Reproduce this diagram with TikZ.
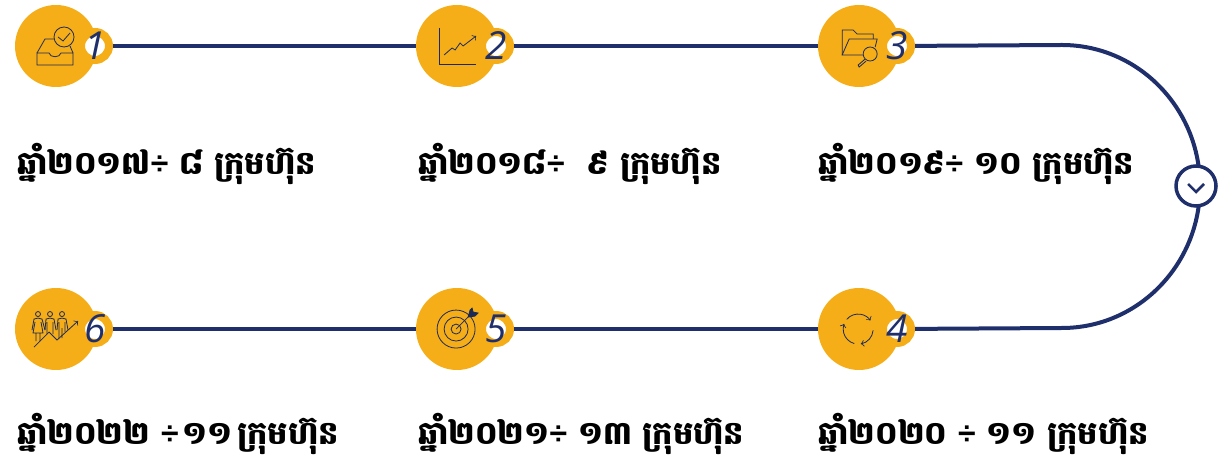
\documentclass[tikz,border=0pt]{standalone}
\usepackage{fontspec}
\setmainfont{Open Sans}
\newfontfamily\khmerfont[Script=Khmer]{Battambang}
\newfontfamily\signfont{Liberation Sans}
\newcommand{\divsign}{{\signfont ÷}}
\definecolor{gold}{HTML}{F5AD18}
\definecolor{navy}{HTML}{1F2F6B}
\definecolor{iconline}{HTML}{1B2A55}
\tikzset{
  every year node/.style={
    anchor=base west,inner sep=0pt,font=\khmerfont\bfseries\fontsize{18.2}{20}\selectfont,
  },
}
\begin{document}
\begin{tikzpicture}
		\tikzstyle{bigdisc}=[circle,fill=gold,minimum size=1.64cm,inner sep=0pt]
		\tikzstyle{bubble}=[circle,draw=gold,fill=white,line width=.16cm,minimum size=.56cm,inner sep=0pt]
		\tikzstyle{num}=[inner sep=0pt,text=navy,font=\itshape\fontsize{22}{22}\selectfont]
		\tikzstyle{yeartext}=[every year node]
		\tikzstyle{link}=[draw=navy,line width=.08cm]
		\tikzstyle{icon}=[x=.02cm,y=-.02cm,yshift=9.3cm,draw=iconline,line width=.45pt]
		\useasboundingbox (0,0) rectangle (24.54,9.3);

		\node[bigdisc] (disc1) at (1.12,8.38) {};
		\node[bigdisc] (disc2) at (9.14,8.38) {};
		\node[bigdisc] (disc3) at (17.18,8.38) {};
		\node[bigdisc] (disc4) at (17.18,2.72) {};
		\node[bigdisc] (disc5) at (9.14,2.72) {};
		\node[bigdisc] (disc6) at (1.12,2.72) {};

		\node[bubble] (bub1) at (1.9,8.38) {};
		\node[bubble] (bub2) at (9.92,8.38) {};
		\node[bubble] (bub3) at (17.94,8.38) {};
		\node[bubble] (bub4) at (17.94,2.72) {};
		\node[bubble] (bub5) at (9.92,2.72) {};
		\node[bubble] (bub6) at (1.9,2.72) {};

		\node[num] (num1) at (bub1) {1};
		\node[num] (num2) at (bub2) {2};
		\node[num] (num3) at (bub3) {3};
		\node[num] (num4) at (bub4) {4};
		\node[num] (num5) at (bub5) {5};
		\node[num] (num6) at (bub6) {6};

		\node[yeartext] (year1) at (.34,5.8) {ឆ្នាំ២០១៧\divsign{} ៨ ក្រុមហ៊ុន};
		\node[yeartext] (year2) at (8.36,5.8) {ឆ្នាំ២០១៨\divsign{}\ \ ៩ ក្រុមហ៊ុន};
		\node[yeartext] (year3) at (16.36,5.8) {ឆ្នាំ២០១៩\divsign{} ១០ ក្រុមហ៊ុន};
		\node[yeartext] (year4) at (16.36,.4) {ឆ្នាំ២០២០ \divsign{} ១១ ក្រុមហ៊ុន};
		\node[yeartext] (year5) at (8.36,.4) {ឆ្នាំ២០២១\divsign{} ១៣ ក្រុមហ៊ុន};
		\node[yeartext] (year6) at (.34,.4) {ឆ្នាំ២០២២ \divsign{}\kern.08cm ១១\kern.1cm ក្រុមហ៊ុន};

		\coordinate (bendtop) at (21.24,8.4);
		\draw[link] (bub1) -- (disc2);
		\draw[link] (bub2) -- (disc3);
		\draw[link] (bub3) -- (bendtop) arc[start angle=90,end angle=-90,x radius=2.76,y radius=2.83] -- (bub4);
		\draw[link] (disc4) -- (bub5);
		\draw[link] (disc5) -- (bub6);

		\node[circle,draw=navy,fill=white,line width=.07cm,minimum size=.8cm,inner sep=0pt] (down) at (23.92,5.58) {};
		\draw[navy,line width=.05cm] ([shift={(-.16,.04)}]down.center) -- ([shift={(0,-.12)}]down.center) -- ([shift={(.16,.04)}]down.center);

		\begin{scope}[icon]
			% tray
			\draw (37,53) -- (45,39) -- (54,39);
			\draw (73,53) -- (70,46);
			\draw (37,53) -- (37,65) -- (73,65) -- (73,53) -- (61,53) .. controls (60,58) and (50,58) .. (49,53) -- cycle;
			\draw (64,37) circle (10);
			\draw (58,37) -- (63,41) -- (70,33);
			% chart
			\draw (439,28) -- (439,64) -- (476,64);
			\draw[->] (444,55) -- (452,48) -- (455,50) -- (460,43) -- (463,46) -- (476,36);
			% folder
			\draw (842,55) -- (842,30) -- (853,30) -- (857,34) -- (873,34) -- (873,39);
			\draw (863,55) -- (842,55) -- (849,39) -- (877,39) -- (875,47);
			\draw (870,54) circle (7);
			\draw (865,59) -- (858,65) -- (859,67) -- (866,61);
			% cycle
			\draw[->] (858,329) ++(-140:15) arc[start angle=-140,end angle=-35,radius=15];
			\draw[->] (858,329) ++(5:15) arc[start angle=5,end angle=80,radius=15];
			\draw[->] (858,329) ++(105:15) arc[start angle=105,end angle=200,radius=15];
			% target
			\draw (456,329) circle (19);
			\draw (456,329) circle (12);
			\draw (456,329) circle (5);
			\draw (456,329) -- (469,316);
			\draw[fill=iconline] (468,317) -- (470,310) -- (472,308) -- (473,312) -- (478,313) -- (475,316) -- cycle;
			% people
			\draw (38,314) circle (2.5);
			\draw (50,314) circle (2.5);
			\draw (62,314) circle (2.5);
			\draw (38,318) -- (34,319) -- (32,330) (38,318) -- (42,319) -- (45,330) (35,322) -- (33,333) -- (43,333) -- (41,322) (36,333) -- (36,341) (40,333) -- (40,341);
			\draw (50,318) -- (46,319) -- (45,330) (50,318) -- (54,319) -- (56,330) (47,322) -- (47,334) (53,322) -- (53,334);
			\draw (62,318) -- (58,319) -- (57,330) (62,318) -- (66,319) -- (68,330) (59,322) -- (59,338) (65,322) -- (65,332) (62,328) -- (62,338);
			\draw[->] (34,347) -- (49,332) -- (57,340) -- (78,321);
		\end{scope}
	\end{tikzpicture}
\end{document}
